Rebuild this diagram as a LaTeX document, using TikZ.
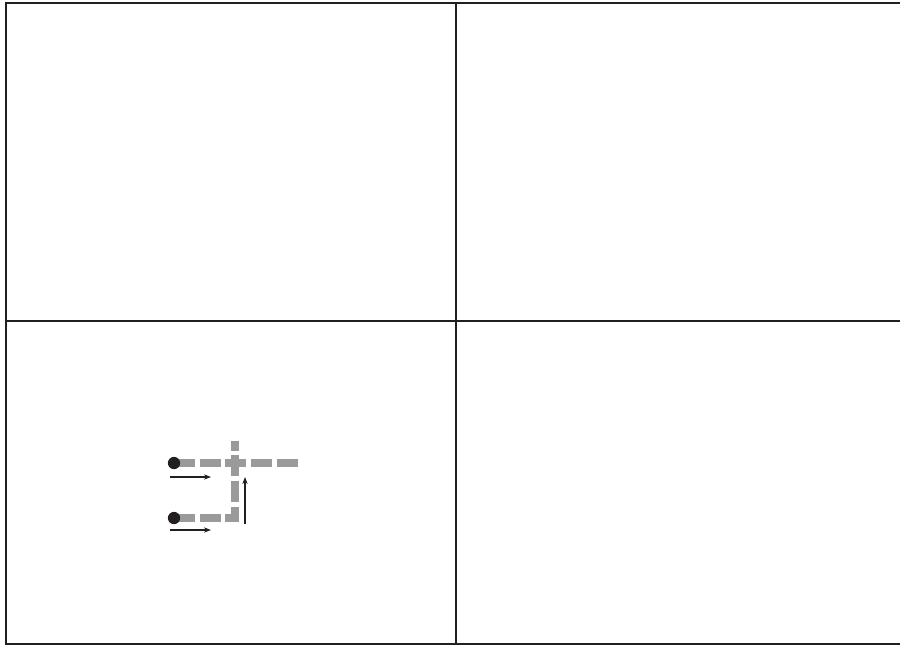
\documentclass[tikz,border=0pt]{standalone}
\usepackage{tikz}
\usetikzlibrary{positioning,arrows.meta,calc}
\definecolor{inkblack}{HTML}{231F20}
\definecolor{trackgray}{HTML}{9A9A9A}

\begin{document}
\begin{tikzpicture}[x=0.02cm, y=-0.02cm,
  frame/.style={line width=1.2pt, inkblack},
  track/.style={line width=4pt, trackgray, dash pattern=on 12pt off 2.6pt},
  dotnode/.style={circle, fill=inkblack, inner sep=0pt, minimum size=7pt},
  move/.style={-{Stealth[length=4pt, width=3pt]}, line width=0.6pt, inkblack}]
\useasboundingbox (0,0) rectangle (900,647);
% Frame and quadrants
\coordinate (tl) at (6,3);
\coordinate (bl) at (6,644);
\coordinate (tr) at (900,3);
\coordinate (br) at (900,644);
\draw[frame] (tr) -- (tl) -- (bl) -- (br);
\draw[frame] (456,3) -- (456,644);
\draw[frame] (6,321) -- (900,321);
% Tracks
\coordinate (endA) at (298,463);
\coordinate (cornerB) at (235,518);
\coordinate (topV) at (235,441);
\draw[track] (174,463) -- (endA);
\draw[track] (174,518) -- (cornerB) -- (topV);
% Start points
\node[dotnode] (dotA) at (174,463) {};
\node[dotnode] (dotB) at (174,518) {};
% Directions of motion
\coordinate (arA0) at (170,477);
\coordinate (arA1) at (211,477);
\coordinate (arB0) at (170,530);
\coordinate (arB1) at (211,530);
\coordinate (arC0) at (245,524);
\coordinate (arC1) at (245,477);
\draw[move] (arA0) -- (arA1);
\draw[move] (arB0) -- (arB1);
\draw[move] (arC0) -- (arC1);
\end{tikzpicture}
\end{document}
